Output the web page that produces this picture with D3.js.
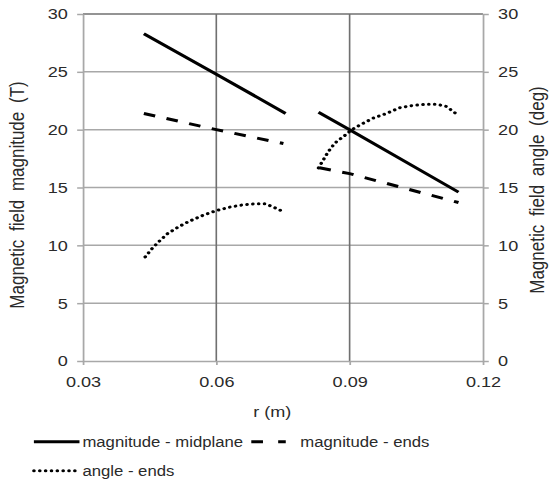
<!DOCTYPE html>
<html>
<head>
<meta charset="utf-8">
<script src="https://cdn.jsdelivr.net/npm/d3@7"></script>
<style>
  html, body { margin: 0; padding: 0; background: #fff; }
  svg { display: block; }
  text { font-family: "Liberation Sans", Arial, sans-serif; fill: #2a2a2a; }
</style>
</head>
<body>
<div id="chart"></div>
<script>
// r (m) positions and values; null marks the gap between the two coils
const rMid = [0.0437, 0.0600, 0.0756, null, 0.0830, 0.0900, 0.1145];
const magMid = [28.3, 24.8, 21.4, null, 21.5, 20.0, 14.6];

const rEnds = [0.0437, 0.0600, 0.0751, null, 0.0832, 0.0900, 0.1145];
const magEnds = [21.4, 20.0, 18.8, null, 16.7, 16.2, 13.7];

const rAngle = [0.0440, 0.0455, 0.0470, 0.0490, 0.0515, 0.0540, 0.0570, 0.0600, 0.0630, 0.0660, 0.0690, 0.0710, 0.0735, 0.0751,
  null,
  0.0830, 0.0841, 0.0852, 0.0867, 0.0886, 0.0905, 0.0923, 0.0953, 0.0983, 0.1013, 0.1043, 0.1073, 0.1096, 0.1118, 0.1139];
const angleEnds = [9.0, 9.7, 10.3, 11.0, 11.6, 12.1, 12.6, 13.0, 13.3, 13.5, 13.6, 13.6, 13.2, 12.9,
  null,
  16.7, 17.4, 18.1, 18.85, 19.4, 20.0, 20.4, 21.0, 21.4, 21.9, 22.1, 22.2, 22.2, 22.0, 21.4];

const xTicks = [0.03, 0.06, 0.09, 0.12];
const yTicks = [0, 5, 10, 15, 20, 25, 30];

const seriesNames = ["magnitude - midplane", "magnitude - ends", "angle - ends"];

// the original is stretched sideways, so draw in a narrower box and stretch it
const fullWidth = 554, height = 483;
const width = 474;
const margin = { top: 14, right: 60.8, bottom: 122, left: 71 };

const svg = d3.select("#chart").append("svg")
    .attr("width", fullWidth)
    .attr("height", height)
    .attr("viewBox", `0 0 ${width} ${height}`)
    .attr("preserveAspectRatio", "none");

const x = d3.scaleLinear().domain([0.03, 0.12]).range([margin.left, width - margin.right]);
const y = d3.scaleLinear().domain([0, 30]).range([height - margin.bottom, margin.top]);
const yRight = d3.scaleLinear().domain([0, 30]).range([height - margin.bottom, margin.top]);

const lightGrey = "#a8a8a8";
const darkGrey = "#707070";

// horizontal gridlines
svg.append("g")
    .selectAll("line")
    .data(yTicks.slice(1, -1))
    .join("line")
    .attr("x1", x(0.03)).attr("x2", x(0.12))
    .attr("y1", (d) => y(d)).attr("y2", (d) => y(d))
    .attr("stroke", lightGrey)
    .attr("stroke-width", 1.5);

// top border
svg.append("line")
    .attr("x1", x(0.03)).attr("x2", x(0.12))
    .attr("y1", y(30)).attr("y2", y(30))
    .attr("stroke", darkGrey)
    .attr("stroke-width", 1.5);

// vertical gridlines
svg.append("g")
    .selectAll("line")
    .data(xTicks.slice(1, -1))
    .join("line")
    .attr("x1", (d) => x(d)).attr("x2", (d) => x(d))
    .attr("y1", y(0)).attr("y2", y(30))
    .attr("stroke", darkGrey)
    .attr("stroke-width", 1.4);

function styleAxis(g) {
    g.selectAll(".domain").attr("stroke", lightGrey).attr("stroke-width", 1.5);
    g.selectAll(".tick line").attr("stroke", lightGrey).attr("stroke-width", 1.5);
    g.selectAll(".tick text").attr("font-size", 15.5).attr("fill", "#2a2a2a")
        .attr("font-family", "Liberation Sans, Arial, sans-serif");
}

svg.append("g")
    .attr("transform", `translate(${margin.left},0)`)
    .call(d3.axisLeft(y).tickValues(yTicks).tickSize(5).tickPadding(8).tickSizeOuter(0))
    .call(styleAxis);

svg.append("g")
    .attr("transform", `translate(${width - margin.right},0)`)
    .call(d3.axisRight(yRight).tickValues(yTicks).tickSize(5).tickPadding(8).tickSizeOuter(0))
    .call(styleAxis);

svg.append("g")
    .attr("transform", `translate(0,${height - margin.bottom})`)
    .call(d3.axisBottom(x).tickValues(xTicks).tickFormat(d3.format(".2f")).tickSize(4).tickPadding(11).tickSizeOuter(0))
    .call(styleAxis);

// series
const line = d3.line()
    .defined((d) => d[1] != null)
    .x((d) => x(d[0]))
    .y((d) => d[1]);

function toPoints(rs, vs, scale) {
    return rs.map((r, i) => [r, vs[i] == null ? null : scale(vs[i])]);
}

const dashStyles = [
    { dash: null, cap: "butt", width: 3 },
    { dash: "10,10", cap: "butt", width: 3 },
    { dash: "0.1,4.9", cap: "round", width: 3 }
];

const series = [
    toPoints(rMid, magMid, y),
    toPoints(rEnds, magEnds, y),
    toPoints(rAngle, angleEnds, yRight)
];

svg.append("g")
    .selectAll("path")
    .data(series)
    .join("path")
    .attr("d", (d) => line(d))
    .attr("fill", "none")
    .attr("stroke", "#000")
    .attr("stroke-width", (d, i) => dashStyles[i].width)
    .attr("stroke-linecap", (d, i) => dashStyles[i].cap)
    .attr("stroke-dasharray", (d, i) => dashStyles[i].dash);

// axis titles
svg.append("text")
    .attr("x", 233)
    .attr("y", 417)
    .attr("text-anchor", "middle")
    .attr("font-size", 15.5)
    .text("r (m)");

svg.append("text")
    .attr("transform", `translate(14.5,195) rotate(-90)`)
    .attr("text-anchor", "middle")
    .attr("dy", "0.35em")
    .attr("font-size", 17)
    .attr("word-spacing", 4)
    .text("Magnetic field magnitude (T)");

svg.append("text")
    .attr("transform", `translate(459.5,190) rotate(-90)`)
    .attr("text-anchor", "middle")
    .attr("dy", "0.35em")
    .attr("font-size", 17)
    .attr("word-spacing", 4)
    .text("Magnetic field angle (deg)");

// legend
const legendItems = [
    { x1: 29, x2: 68, tx: 70.5, y: 441.7 },
    { x1: 215, x2: 244.5, tx: 257, y: 441.7 },
    { x1: 29, x2: 68, tx: 70.5, y: 470.7 }
];

const legend = svg.append("g")
    .selectAll("g")
    .data(seriesNames)
    .join("g");

legend.append("line")
    .attr("x1", (d, i) => legendItems[i].x1)
    .attr("x2", (d, i) => legendItems[i].x2)
    .attr("y1", (d, i) => legendItems[i].y)
    .attr("y2", (d, i) => legendItems[i].y)
    .attr("stroke", "#000")
    .attr("stroke-width", (d, i) => dashStyles[i].width)
    .attr("stroke-linecap", (d, i) => dashStyles[i].cap)
    .attr("stroke-dasharray", (d, i) => (i === 1 ? "10,13" : dashStyles[i].dash));

legend.append("text")
    .attr("x", (d, i) => legendItems[i].tx)
    .attr("y", (d, i) => legendItems[i].y)
    .attr("dy", "0.35em")
    .attr("font-size", 14.3)
    .text((d) => d);
</script>
</body>
</html>
